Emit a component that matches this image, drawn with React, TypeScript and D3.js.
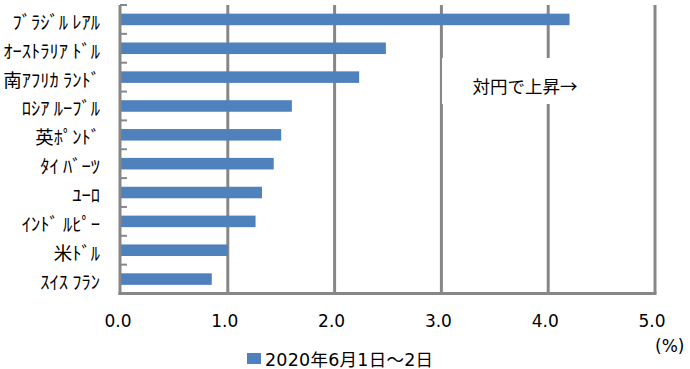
import React from "react";
import * as d3 from "d3";

const categories = [
  "ﾌﾞﾗｼﾞﾙ ﾚｱﾙ",
  "ｵｰｽﾄﾗﾘｱ ﾄﾞﾙ",
  "南ｱﾌﾘｶ ﾗﾝﾄﾞ",
  "ﾛｼｱ ﾙｰﾌﾞﾙ",
  "英ﾎﾟﾝﾄﾞ",
  "ﾀｲ ﾊﾞｰﾂ",
  "ﾕｰﾛ",
  "ｲﾝﾄﾞ ﾙﾋﾟｰ",
  "米ﾄﾞﾙ",
  "ｽｲｽ ﾌﾗﾝ",
];
const values = [4.2, 2.48, 2.23, 1.6, 1.5, 1.43, 1.32, 1.26, 1.0, 0.85];
const xTicks = [0, 1, 2, 3, 4, 5];
const seriesName = "2020年6月1日～2日";
const annotation = "対円で上昇→";
const unitLabel = "(%)";

const W = 690;
const H = 369;
const GRID = "#878787";
const BAR = "#4F81BD";
const CJK = "'Noto Sans CJK JP', sans-serif";
const NUM = "'DejaVu Sans', 'Noto Sans CJK JP', sans-serif";

export default function App() {
  const x = d3.scaleLinear().domain([0, 5]).range([121, 655]);
  const y = d3
    .scaleBand<string>()
    .domain(categories)
    .range([5, 293.5])
    .paddingInner(0.6)
    .paddingOuter(0.3);
  const top = 5;
  const bottom = 293.5;
  const step = y.step();
  const boundaries = d3.range(categories.length).map((i) => top + i * step);

  return (
    <svg
      width={W}
      height={H}
      style={{ position: "absolute", left: 0, top: 0, background: "#fff" }}
    >
      <rect x={0} y={0} width={W} height={H} fill="#fff" />
      {/* vertical gridlines */}
      {xTicks.slice(1).map((t) => (
        <line
          key={"g" + t}
          x1={x(t)}
          x2={x(t)}
          y1={top}
          y2={bottom}
          stroke={GRID}
          strokeWidth={3}
        />
      ))}
      {/* bars */}
      {categories.map((c, i) => (
        <rect
          key={c}
          x={x(0)}
          y={y(c)}
          width={x(values[i]) - x(0)}
          height={y.bandwidth()}
          fill={BAR}
        />
      ))}
      {/* annotation box */}
      <rect x={442} y={58} width={158} height={46} fill="#fff" />
      <text
        x={525}
        y={85}
        textAnchor="middle"
        dominantBaseline="central"
        fontFamily={CJK}
        fontSize={17.5}
        fill="#000"
      >
        {annotation}
      </text>
      {/* left axis */}
      <line x1={120} x2={120} y1={top} y2={bottom + 1.5} stroke={GRID} strokeWidth={3} />
      {boundaries.map((b, i) => (
        <line key={"t" + i} x1={120} x2={127} y1={b} y2={b} stroke={GRID} strokeWidth={2} />
      ))}
      {/* bottom axis */}
      <line x1={118.5} x2={656.5} y1={bottom} y2={bottom} stroke={GRID} strokeWidth={3} />
      {/* category labels */}
      {categories.map((c) => (
        <text
          key={"l" + c}
          x={100}
          y={(y(c) as number) + y.bandwidth() / 2 + 1.5}
          textAnchor="end"
          dominantBaseline="central"
          fontFamily={CJK}
          fontSize={18.5}
          fill="#000"
          style={{ whiteSpace: "pre" }}
        >
          {c}
        </text>
      ))}
      {/* x tick labels */}
      {xTicks.map((t) => (
        <text
          key={"x" + t}
          x={x(t) - 3}
          y={327}
          textAnchor="middle"
          fontFamily={NUM}
          fontSize={17}
          fill="#000"
        >
          {d3.format(".1f")(t)}
        </text>
      ))}
      <text x={655} y={352} fontFamily={NUM} fontSize={17} fill="#000">
        {unitLabel}
      </text>
      {/* legend */}
      <rect x={247} y={353} width={14} height={11} fill={BAR} />
      <text
        x={265}
        y={366}
        fontFamily={NUM}
        fontSize={17.5}
        fill="#000"
        textLength={168}
        lengthAdjust="spacing"
      >
        {seriesName}
      </text>
    </svg>
  );
}
